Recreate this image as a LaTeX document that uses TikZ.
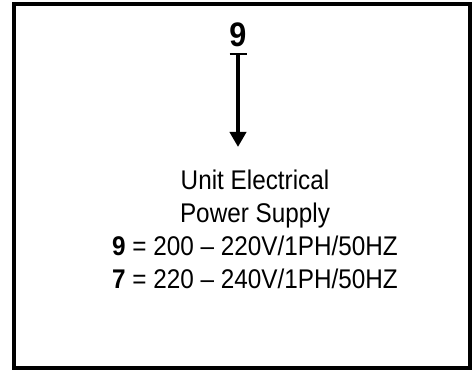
\documentclass[tikz,border=0pt]{standalone}
\usepackage{fontspec}
\setmainfont{Liberation Sans}[FakeStretch=0.9]
\usetikzlibrary{arrows.meta}

\begin{document}
\begin{tikzpicture}[x=1pt,y=-1pt,line join=miter]

\useasboundingbox (0,0) rectangle (475,374);

% outer frame
\draw[line width=4pt] (14,4) rectangle (470,368);

\node[inner sep=0pt,
    anchor=base,
    font=\fontsize{34}{40}\selectfont\bfseries
] (digit) at (238,47) {9};

% base anchor = baseline of the last line
\node[inner sep=0pt,
    anchor=base,
    align=center,
    font=\fontsize{27}{33}\selectfont
] (supply) at (255,289) {Unit Electrical\\Power Supply\\\textbf{9} = 200 – 220V/1PH/50HZ\\\textbf{7} = 220 – 240V/1PH/50HZ};

\coordinate (start) at ([yshift=-6pt]digit.base);
\coordinate (tip) at (238,147);

\draw[line width=4pt,
    {Bar[width=17pt,line width=2.4pt]}-{Triangle[width=16pt,length=15pt]}
] (start) -- (tip);

\end{tikzpicture}
\end{document}
